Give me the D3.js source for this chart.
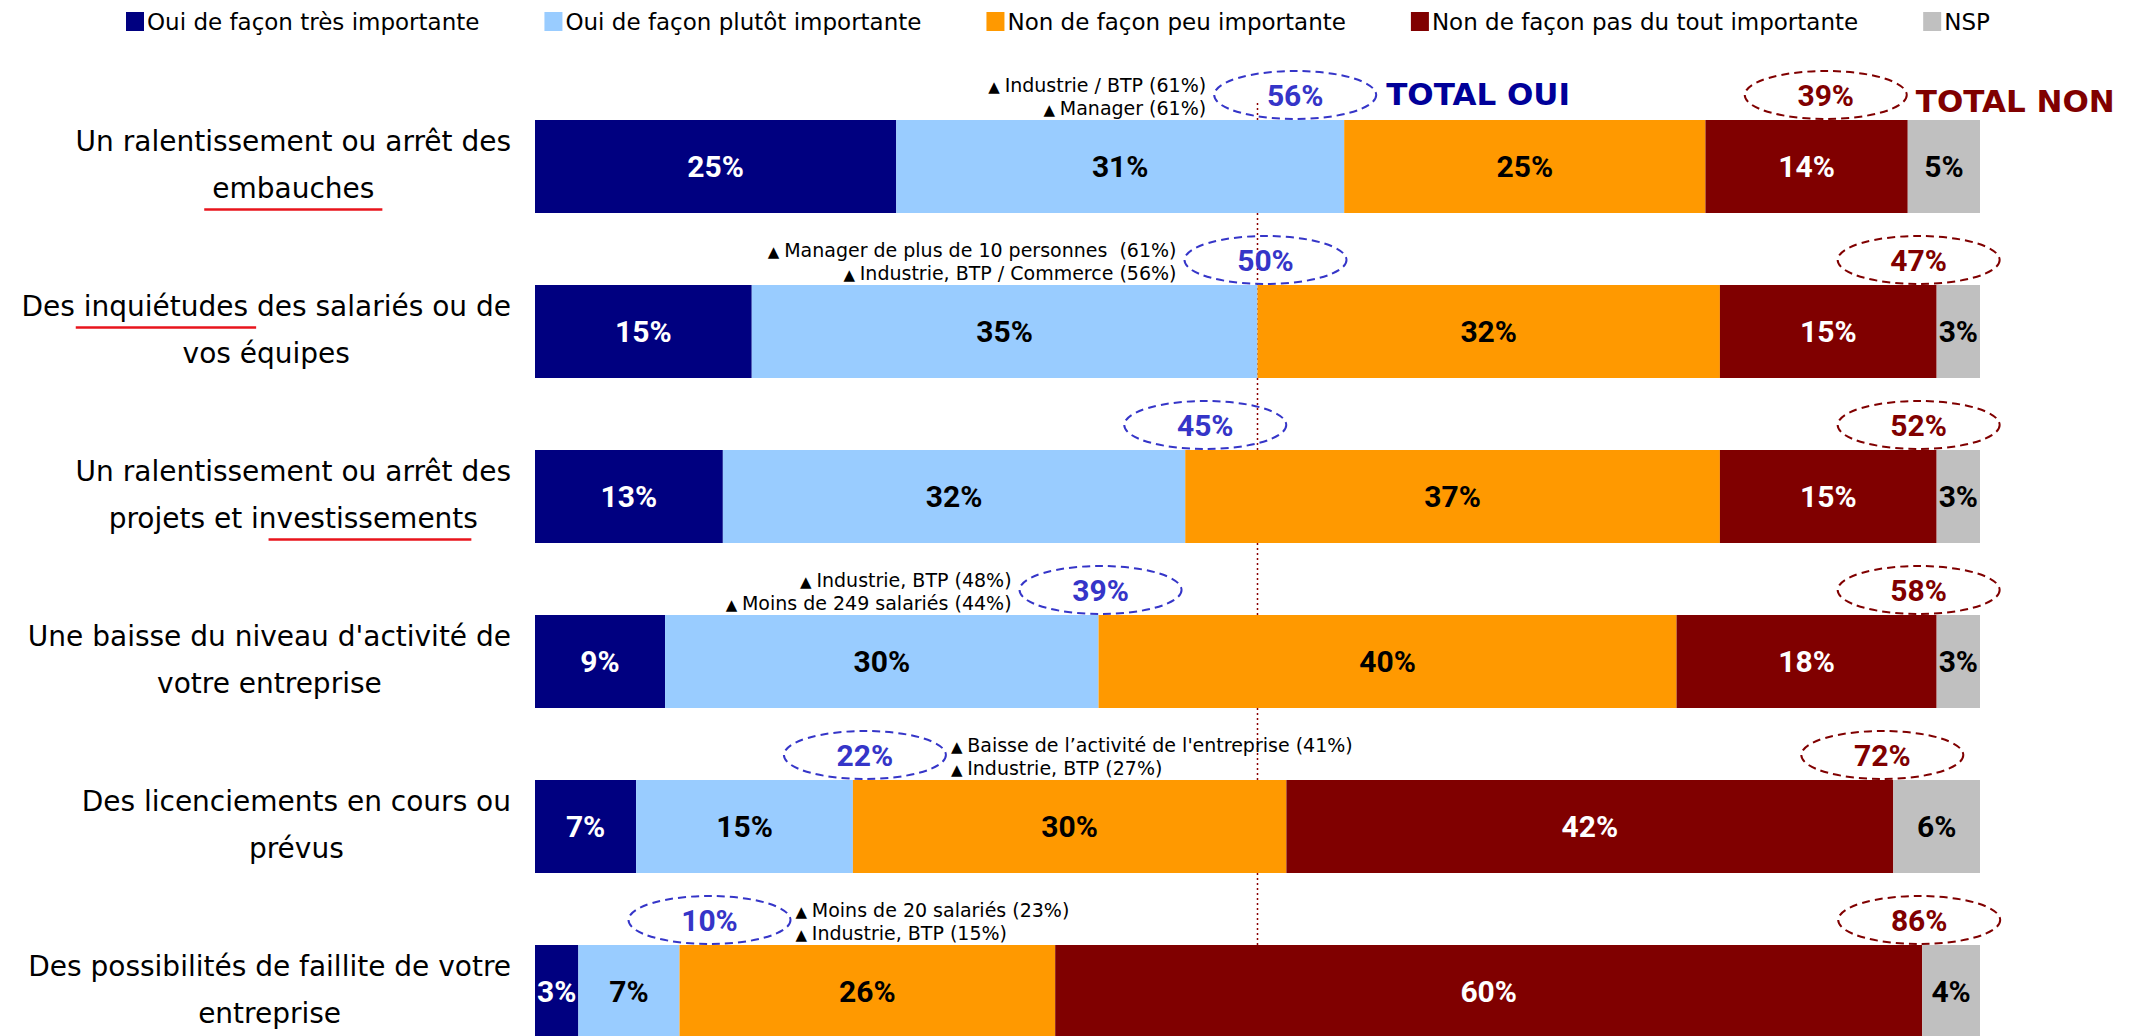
<!DOCTYPE html>
<html>
<head>
<meta charset="utf-8">
<script src="https://cdn.jsdelivr.net/npm/d3@7"></script>
<style>
  html, body { margin: 0; padding: 0; background: #ffffff; }
  svg { display: block; }
  text { font-family: "DejaVu Sans", Verdana, sans-serif; white-space: pre; }
</style>
</head>
<body>
<svg id="chart" width="2140" height="1036"></svg>
<script>
// ---------------- DATA ----------------
const categories = [
  ["Un ralentissement ou arrêt des", "embauches"],
  ["Des inquiétudes des salariés ou de", "vos équipes"],
  ["Un ralentissement ou arrêt des", "projets et investissements"],
  ["Une baisse du niveau d'activité de", "votre entreprise"],
  ["Des licenciements en cours ou", "prévus"],
  ["Des possibilités de faillite de votre", "entreprise"]
];
const seriesNames = [
  "Oui de façon très importante",
  "Oui de façon plutôt importante",
  "Non de façon peu importante",
  "Non de façon pas du tout importante",
  "NSP"
];
const ouiTres      = [25, 15, 13,  9,  7,  3];
const ouiPlutot    = [31, 35, 32, 30, 15,  7];
const nonPeu       = [25, 32, 37, 40, 30, 26];
const nonPasDuTout = [14, 15, 15, 18, 42, 60];
const nsp          = [ 5,  3,  3,  3,  6,  4];
const totalOui     = [56, 50, 45, 39, 22, 10];
const totalNon     = [39, 47, 52, 58, 72, 86];
const highlights = [
  ["Industrie / BTP (61%)", "Manager (61%)"],
  ["Manager de plus de 10 personnes  (61%)", "Industrie, BTP / Commerce (56%)"],
  [],
  ["Industrie, BTP (48%)", "Moins de 249 salariés (44%)"],
  ["Baisse de l\u2019activité de l'entreprise (41%)", "Industrie, BTP (27%)"],
  ["Moins de 20 salariés (23%)", "Industrie, BTP (15%)"]
];
const totalLabels = ["TOTAL OUI", "TOTAL NON"];

// ---------------- LAYOUT / STYLE ----------------
const colors = ["#000080", "#99ccff", "#ff9900", "#800000", "#c0c0c0"];
const labelColors = ["#ffffff", "#000000", "#000000", "#ffffff", "#000000"];
const ouiBlue = "#3535c8";
const nonRed = "#800000";
const layout = {
  ouiNudge: [-49, 8, 20, 2, 12, 30],
  nonNudge: [-82, -18, -18, -18, -11, -3],
  annotSide: ["left", "left", "none", "left", "right", "right"],
  underline: ["embauches", "inquiétudes", "vestissement", null, null, null],
  underlineLine: [1, 0, 1, 0, 0, 0]
};

const svg = d3.select("#chart");
svg.append("rect").attr("width", 2140).attr("height", 1036).attr("fill", "#fff");

const rows = d3.range(categories.length);
const x = d3.scaleLinear().domain([0, 100]).range([535, 1980]);
const y = d3.scaleBand().domain(rows).range([120, 1038]).paddingInner(72 / 165).paddingOuter(0);
const bw = y.bandwidth();

const table = rows.map(i => ({
  row: i,
  s0: ouiTres[i], s1: ouiPlutot[i], s2: nonPeu[i], s3: nonPasDuTout[i], s4: nsp[i]
}));
const keys = ["s0", "s1", "s2", "s3", "s4"];
const stacked = d3.stack().keys(keys)(table);

// 50% reference line (behind bars)
svg.append("line")
  .attr("x1", x(50)).attr("x2", x(50))
  .attr("y1", 103).attr("y2", 1036)
  .attr("stroke", "#8b0000").attr("stroke-width", 1.5)
  .attr("stroke-dasharray", "2,3");

// ---------------- LEGEND ----------------
const legend = svg.append("g");
let lx = 126;
seriesNames.forEach((name, k) => {
  legend.append("rect").attr("x", lx).attr("y", 12).attr("width", 18).attr("height", 19)
    .attr("fill", colors[k]);
  const t = legend.append("text").attr("x", lx + 21).attr("y", 30)
    .attr("font-size", 23).attr("fill", "#000").text(name);
  lx += 21 + t.node().getComputedTextLength() + 65;
});

// ---------------- BARS ----------------
const layers = svg.append("g").selectAll("g").data(stacked).join("g")
  .attr("fill", (d, k) => colors[k]);
layers.selectAll("rect").data(d => d).join("rect")
  .attr("x", d => x(d[0]))
  .attr("y", d => y(d.data.row))
  .attr("width", d => x(d[1]) - x(d[0]))
  .attr("height", bw);

const labG = svg.append("g");
stacked.forEach((layer, k) => {
  labG.selectAll(null).data(layer).join("text")
    .attr("x", d => x((d[0] + d[1]) / 2))
    .attr("y", d => y(d.data.row) + bw / 2)
    .attr("dy", "0.36em")
    .attr("text-anchor", "middle")
    .style("font-family", "Roboto, 'DejaVu Sans', sans-serif")
    .attr("font-weight", "bold")
    .attr("font-size", 30)
    .attr("fill", labelColors[k])
    .text(d => (d[1] - d[0]) + "%");
});

// ---------------- CATEGORY LABELS ----------------
rows.forEach(i => {
  const cy = y(i) + bw / 2;
  const g = svg.append("g");
  const texts = categories[i].map((line, li) =>
    g.append("text").attr("y", cy - 16 + li * 47)
      .attr("font-size", 28).attr("fill", "#000")
      .attr("text-anchor", "middle").text(line));
  const maxW = d3.max(texts, t => t.node().getComputedTextLength());
  const cx = 511 - maxW / 2;
  texts.forEach(t => t.attr("x", cx));
  const word = layout.underline[i];
  if (word) {
    const li = layout.underlineLine[i];
    const line = categories[i][li];
    const node = texts[li].node();
    const idx = line.indexOf(word);
    const xs = node.getStartPositionOfChar(idx).x;
    const xe = node.getEndPositionOfChar(idx + word.length - 1).x;
    const by = cy - 16 + li * 47 + 12;
    g.append("line").attr("x1", xs - 8).attr("x2", xe + 8)
      .attr("y1", by).attr("y2", by)
      .attr("stroke", "#e8141c").attr("stroke-width", 2.5);
  }
});

// ---------------- TOTAL BUBBLES ----------------
const rx = 81, ry = 24;
const bubbleG = svg.append("g");
rows.forEach(i => {
  const top = y(i);
  const cy = top - 25;
  const cxO = x(totalOui[i]) + layout.ouiNudge[i];
  const cxN = x(totalOui[i] + totalNon[i]) + layout.nonNudge[i];
  [[cxO, totalOui[i], ouiBlue], [cxN, totalNon[i], nonRed]].forEach(([cx, v, c]) => {
    bubbleG.append("ellipse").attr("cx", cx).attr("cy", cy).attr("rx", rx).attr("ry", ry)
      .attr("fill", "none").attr("stroke", c).attr("stroke-width", 2)
      .attr("stroke-dasharray", "8,5");
    bubbleG.append("text").attr("x", cx).attr("y", cy).attr("dy", "0.36em")
      .attr("text-anchor", "middle")
      .style("font-family", "Roboto, 'DejaVu Sans', sans-serif")
      .attr("font-weight", "bold").attr("font-size", 30).attr("fill", c)
      .text(v + "%");
  });
  if (i === 0) {
    bubbleG.append("text").attr("x", cxO + rx + 10).attr("y", cy + 10)
      .attr("font-weight", "bold").attr("font-size", 31).attr("fill", "#000099")
      .text(totalLabels[0]);
    bubbleG.append("text").attr("x", cxN + rx + 9).attr("y", cy + 17)
      .attr("font-weight", "bold").attr("font-size", 31).attr("fill", nonRed)
      .text(totalLabels[1]);
  }
  // annotations
  const side = layout.annotSide[i];
  if (highlights[i].length && side !== "none") {
    const ax = side === "left" ? cxO - rx - 8 : cxO + rx + 5;
    highlights[i].forEach((h, k) => {
      const t = bubbleG.append("text")
        .attr("x", ax).attr("y", top - 28 + k * 23)
        .attr("text-anchor", side === "left" ? "end" : "start")
        .attr("font-size", 19).attr("fill", "#000");
      t.append("tspan").attr("font-size", 15).text("\u25B2 ");
      t.append("tspan").text(h);
    });
  }
});
</script>
</body>
</html>
